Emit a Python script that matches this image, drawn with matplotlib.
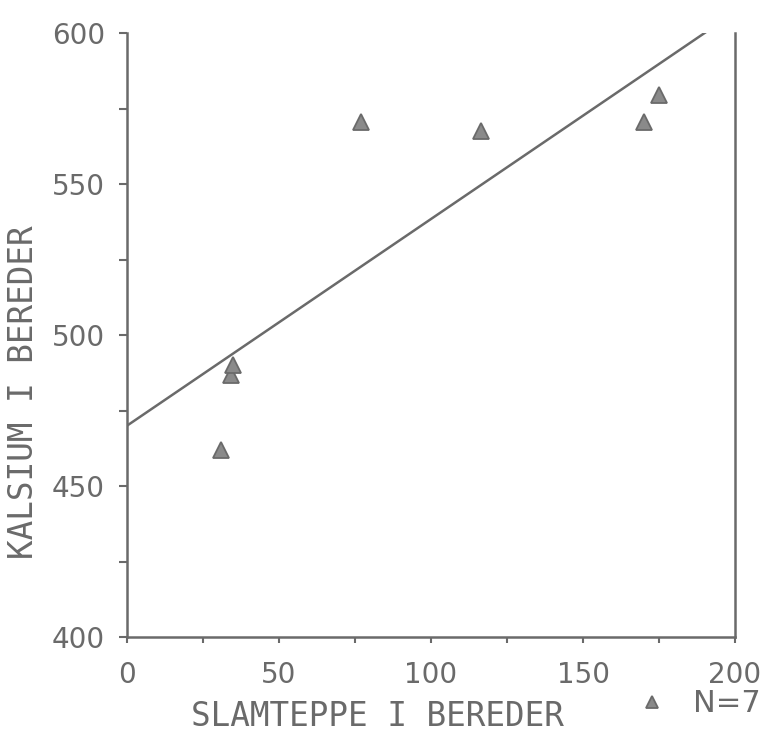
import numpy as np
import matplotlib
matplotlib.use('Agg')
import matplotlib.pyplot as plt
from matplotlib.ticker import MultipleLocator

# slamteppe (x) og kalsium (y) i bereder
slamteppe = [30.8, 34.1, 35.0, 76.9, 116.6, 170.2, 175.1]
kalsium = [462.0, 486.7, 490.0, 570.6, 567.5, 570.6, 579.5]
x_ticks = [0, 50, 100, 150, 200]
y_ticks = [400, 450, 500, 550, 600]

ink = '#6a6a6a'
plt.rcParams['font.family'] = ['DejaVu Sans']

fig = plt.figure(figsize=(7.71, 7.34), dpi=100)
ax = fig.add_axes([127/771, 1-637/734, (735-127)/771, (637-33)/734])

# regresjonslinje
b, a = np.polyfit(slamteppe, kalsium, 1)
xl = np.array([0, 200])
ax.plot(xl, a + b*xl, color=ink, lw=1.8)

pts, = ax.plot(slamteppe, kalsium, linestyle='none', marker='^', ms=11,
               mfc='#8a8a8a', mec=ink, mew=1.3, label='N=7')

ax.set_xlim(0, 200)
ax.set_ylim(400, 600)
ax.set_xticks(x_ticks)
ax.set_yticks(y_ticks)
ax.xaxis.set_minor_locator(MultipleLocator(25))
ax.yaxis.set_minor_locator(MultipleLocator(25))

ax.spines['top'].set_visible(False)
for s in ['left', 'bottom', 'right']:
    ax.spines[s].set_color(ink)
    ax.spines[s].set_linewidth(1.8)

ax.tick_params(axis='y', which='both', direction='out', length=6, width=1.5,
               color=ink, labelcolor=ink, labelsize=20, pad=10)
ax.tick_params(axis='x', which='both', direction='out', length=4, width=1.5,
               color=ink, labelcolor=ink, labelsize=20, pad=13)
ax.tick_params(axis='y', which='both', right=False)

fig.text(0.490, 0.0245, 'SLAMTEPPE I BEREDER', ha='center', va='center',
         fontsize=23.5, color=ink, family='DejaVu Sans Mono')
fig.text(0.031, 0.466, 'KALSIUM I BEREDER', ha='center', va='center',
         rotation=90, fontsize=23.5, color=ink, family='DejaVu Sans Mono')

ax.legend(handles=[pts], loc='center left', bbox_to_anchor=(0.826, 0.041),
          bbox_transform=fig.transFigure, frameon=False, fontsize=22,
          labelcolor=ink, handletextpad=0.85, handlelength=1.0,
          borderpad=0, borderaxespad=0, markerscale=0.8)

fig.savefig('out.png', dpi=100, facecolor='white')
